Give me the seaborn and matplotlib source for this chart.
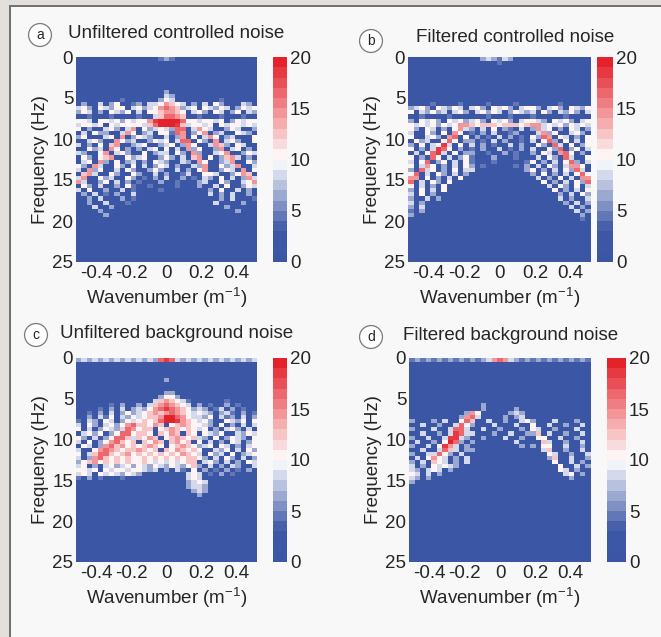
import numpy as np
import seaborn as sns
import matplotlib.pyplot as plt
from matplotlib.colors import LinearSegmentedColormap, ListedColormap
from matplotlib.patches import Rectangle

# f-k spectra: 0.5 Hz rows (0..25 Hz) x 33 wavenumber columns.
# one character per cell, amplitude = LEVELS.index(char) * 2  (0..20)
LEVELS = "0123456789X"
freq_step = 0.5
n_rows = 50
wavenumber = np.round(np.linspace(-0.5, 0.5, 33), 4)
freq_ticks = [0, 5, 10, 15, 20, 25]
k_ticks = [-0.4, -0.2, 0, 0.2, 0.4]
k_ticklabels = ["-0.4", "-0.2", "0", "0.2", "0.4"]
cbar_ticks = [0, 5, 10, 15, 20]

Z = "0" * 33

a_rows = [
    "00000000000" "00002320000" "00000000000",
    Z, Z, Z, Z, Z, Z, Z,
    "00000000000" "00000300000" "00000000000",
    "00000000000" "00000430000" "00000000000",
    "00010000200" "00003540000" "10002000100",
    "13004135012" "30445765403" "14053001431",
    "45305435504" "53457876345" "05435403545",
    "35413054350" "40556776514" "53054135043",
    "10201020110" "20146887610" "20102010201",
    "55405545354" "5579XXXX855" "45545035455",
    "45545054555" "5468XXX9645" "54505455454",
    "51300453147" "05345438814" "75410354013",
    "04153301475" "13405528703" "57134005431",
    "35100451703" "54301403715" "04751340015",
    "10453017534" "10354514880" "53170453105",
    "40315067013" "45013450375" "01476315400",
    "01534075130" "30451504173" "50137045130",
    "43015704531" "05134415307" "31045701354",
    "15305671053" "45013530416" "70513674031",
    "04517305134" "13054301430" "75103470153",
    "53074105315" "04135403104" "37015347104",
    "41735014053" "10353104031" "57103541705",
    "06741053105" "31040310241" "05541035760",
    "47105341053" "02130401302" "14305140374",
    "74013504130" "20103102010" "34105310457",
    "05314013052" "10200102010" "30140510354",
    "40501300412" "00102001000" "01305104031",
    "03140203014" "10001000100" "10403041030",
    "10304010302" "00100000000" "00103040102",
    "00300401020" "00000000000" "00040100300",
    "00040030100" "00000000000" "00000300100",
    "00003010000" "00000000000" "00000003000",
    "00000300000" "00000000000" "00000000000",
]

b_rows = [
    "00000000000" "00343243000" "00000000000",
    "00000000000" "00010200000" "00000000000",
    Z, Z, Z, Z, Z, Z, Z, Z, Z,
    "01002010020" "10020100201" "00100200100",
    "34530543540" "45305453045" "53045305435",
    "50435340453" "04535403543" "40530435304",
    "10201102010" "01020102010" "20101020110",
    "30545305453" "45305453045" "54305453045",
    "54545354577" "65666566656" "77454535454",
    "53054130574" "30415032041" "37451305403",
    "40153051750" "21304102301" "04735014530",
    "51045307805" "03120403021" "53870541305",
    "05341058503" "30204030120" "40583051405",
    "31504594051" "40302104031" "05318405135",
    "50314985031" "20301402130" "41053813504",
    "04158940513" "31020130210" "30541785031",
    "50318504135" "20103010201" "14053084105",
    "40581350415" "20102000102" "50314058304",
    "51475031405" "30200000203" "04153047751",
    "30845130514" "40000000003" "51304153840",
    "58041530413" "00000000000" "30513041585",
    "77051304150" "00000000000" "04130514077",
    "80415305100" "00000000000" "00513041538",
    "50413051000" "00000000000" "00041530514",
    "30514050000" "00000000000" "00005130415",
    "40513000000" "00000000000" "00000314053",
    "30140300000" "00000000000" "00000403104",
    "40310000000" "00000000000" "00000030413",
    "30400000000" "00000000000" "00000004031",
    "20300000000" "00000000000" "00000000403",
    "30000000000" "00000000000" "00000000030",
    "10000000000" "00000000000" "00000000020",
]

c_rows = [
    "34343434343" "43438984343" "43434343434",
    Z, Z, Z, Z,
    "00000000000" "00000300000" "00000000000",
    Z, Z,
    "00000000000" "00000330000" "00000000000",
    "00000000000" "00003553000" "00000000000",
    "00000000100" "01046765420" "01000200010",
    "00001020301" "30467876540" "30201302010",
    "00102030403" "43578987653" "43024130201",
    "00203040353" "45676787654" "54303420302",
    "01304250435" "45667XX8754" "43504231403",
    "20431540354" "56568XX9765" "45310543505",
    "40531453578" "66576056765" "54305130404",
    "51403543487" "56605676565" "45130453140",
    "04535135885" "66506576065" "05435104354",
    "53041358864" "65760567656" "43051354305",
    "40513578656" "06576067560" "50413054135",
    "05413786756" "56765056765" "34505413045",
    "41057876566" "76560657656" "51043504153",
    "50468865675" "65656565765" "40534150345",
    "40378656565" "56565656566" "53041530413",
    "35675656565" "56545454566" "04530413054",
    "45130453453" "54354354356" "30413043104",
    "55450545545" "54340304205" "03020302030",
    "45405454354" "31000000045" "40203020100",
    "20302010200" "00000000045" "40100000000",
    "00000000000" "00000000034" "54000000000",
    "00000000000" "00000000034" "43000000000",
    "00000000000" "00000000003" "43000000000",
    "00000000000" "00000000000" "30000000000",
]

d_rows = [
    "23232323232" "32347874323" "23232323232",
    Z, Z, Z, Z, Z, Z, Z, Z, Z, Z,
    "00000000000" "00300000000" "00000000000",
    "00000000000" "00300000300" "00000000000",
    "00000000003" "75000003430" "00000000000",
    "00000000037" "84000030340" "00000000000",
    "30003040058" "60040030045" "30004000300",
    "00400300485" "30004000400" "50040030040",
    "30004004884" "00400300030" "54003000400",
    "00400304984" "40003004003" "36040030040",
    "30040049943" "00300040030" "05500400300",
    "0400305X830" "30000000400" "00640030040",
    "30040597403" "00000000030" "30550040030",
    "00400486403" "30000000000" "00460030040",
    "30044853040" "00000000000" "00054003004",
    "04057540304" "00000000000" "00036004003",
    "30406540304" "00000000000" "00005004030",
    "40305454300" "00000000000" "00000500403",
    "43045403000" "00000000000" "00000540300",
    "54040300000" "00000000000" "00000045030",
    "43030000000" "00000000000" "00000003000",
    "30000000000" "00000000000" "00000000000",
]

panel_letters = ["a", "b", "c", "d"]
panel_titles = ["Unfiltered controlled noise", "Filtered controlled noise",
                "Unfiltered background noise", "Filtered background noise"]
panel_rows = [a_rows, b_rows, c_rows, d_rows]


def to_grid(rows):
    rows = list(rows) + [Z] * (n_rows - len(rows))
    return np.array([[LEVELS.index(ch) * 2 for ch in r.ljust(33, "0")[:33]]
                     for r in rows[:n_rows]], dtype=float)


sns.set_style("white")
plt.rcParams["font.family"] = ["Liberation Sans", "DejaVu Sans"]
plt.rcParams["mathtext.fontset"] = "custom"
plt.rcParams["mathtext.rm"] = "Liberation Sans"
plt.rcParams["mathtext.it"] = "Liberation Sans:italic"

base = LinearSegmentedColormap.from_list(
    "fk", [(0, "#3b56a5"), (0.14, "#3d58a6"), (0.5, "#ffffff"), (1, "#e3222b")])
cmap = ListedColormap(base(np.linspace(0, 1, 20)))

W, H = 661, 637
fig = plt.figure(figsize=(W / 100, H / 100), dpi=100, facecolor="#e3dfda")
fig.add_artist(Rectangle((10 / W, -0.01), 1.0, 1.01 - 6 / H, transform=fig.transFigure,
                         facecolor="#f8f8f8", edgecolor="#6f6f6f", lw=1.4, zorder=-10))


def box(x0, y0, x1, y1):
    return [x0 / W, 1 - y1 / H, (x1 - x0) / W, (y1 - y0) / H]


heat_px = [(76, 57, 257, 262), (408, 57, 591, 262), (76, 358, 257, 562), (409, 358, 591, 562)]
cbar_px = [(273, 57, 287, 262), (597, 57, 613, 262), (273, 358, 287, 562), (607, 358, 626, 562)]
title_px = [(68, 34), (416, 37), (60, 334), (403, 335)]
letter_px = [(40, 35), (371, 41), (36, 335), (371, 337)]

col_pos = np.arange(len(wavenumber)) + 0.5
fs = 13.5

for i in range(4):
    ax = fig.add_axes(box(*heat_px[i]))
    cax = fig.add_axes(box(*cbar_px[i]))
    sns.heatmap(to_grid(panel_rows[i]), ax=ax, cbar_ax=cax, cmap=cmap, vmin=0, vmax=20,
                xticklabels=False, yticklabels=False, rasterized=True,
                cbar_kws={"ticks": cbar_ticks})
    ax.set_yticks([f / freq_step for f in freq_ticks])
    ax.set_yticklabels([str(f) for f in freq_ticks], fontsize=fs, rotation=0)
    ax.set_xticks(np.interp(k_ticks, wavenumber, col_pos))
    ax.set_xticklabels(k_ticklabels, fontsize=fs)
    ax.tick_params(length=0, pad=2)
    ax.set_ylabel("Frequency (Hz)", fontsize=fs, labelpad=2)
    ax.set_xlabel("Wavenumber (m$^{-1}$)", fontsize=fs, labelpad=3)
    cb = ax.collections[0].colorbar
    cb.outline.set_visible(False)
    cax.tick_params(length=0, labelsize=fs, pad=2)

    tx, ty = title_px[i]
    fig.text(tx / W, 1 - ty / H, panel_titles[i], ha="left", va="center", fontsize=fs)
    lx, ly = letter_px[i]
    fig.text(lx / W, 1 - ly / H, panel_letters[i], ha="center", va="center", fontsize=10,
             bbox=dict(boxstyle="circle,pad=0.32", fc="white", ec="#7a7a7a", lw=0.9))

fig.savefig("out.png", dpi=100, facecolor=fig.get_facecolor())
